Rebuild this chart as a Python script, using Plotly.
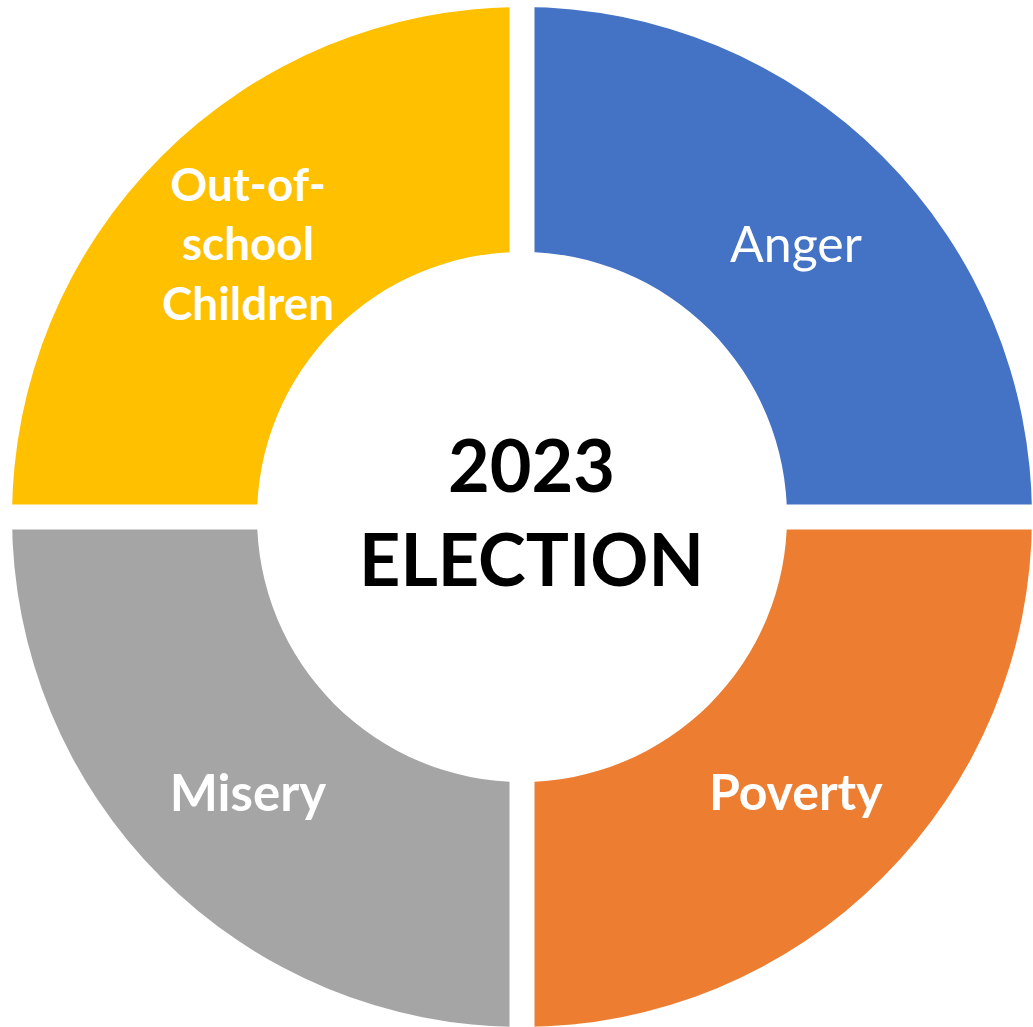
import plotly.graph_objects as go

# ---- data ----
labels = ["Anger", "Poverty", "Misery", "Out-of-school Children"]
display_text = ["Anger", "Poverty", "Misery", "Out-of-<br>school<br>Children"]
bold = [False, True, True, True]
values = [1, 1, 1, 1]
colors = ["#4472C4", "#ED7D31", "#A5A5A5", "#FFC000"]
label_sizes = [50, 50, 51, 54]
center_lines = ["2023", "ELECTION"]

W, H = 1033, 1027
cx, cy, R = 522, 517, 510   # pixel centre / radius of the ring
gap = 25                    # white separator width (px)

texts = [f"<b>{t}</b>" if b else t for t, b in zip(display_text, bold)]

fig = go.Figure(go.Pie(
    labels=labels,
    values=values,
    text=texts,
    textinfo="text",
    textposition="inside",
    insidetextorientation="horizontal",
    hole=265 / 510,
    sort=False,
    direction="clockwise",
    rotation=0,
    marker=dict(colors=colors, line=dict(width=0)),
    textfont=dict(family="Lato", size=label_sizes, color="white"),
    domain=dict(x=[(cx - R) / W, (cx + R) / W],
                y=[1 - (cy + R) / H, 1 - (cy - R) / H]),
    hoverinfo="label",
))

# white separator bands through the centre
fig.add_shape(type="rect", xref="paper", yref="paper",
              x0=(cx - gap / 2) / W, x1=(cx + gap / 2) / W, y0=-0.01, y1=1.01,
              fillcolor="white", line=dict(width=0), layer="above")
fig.add_shape(type="rect", xref="paper", yref="paper",
              x0=-0.01, x1=1.01, y0=1 - (cy + gap / 2) / H, y1=1 - (cy - gap / 2) / H,
              fillcolor="white", line=dict(width=0), layer="above")

fig.add_annotation(
    x=(cx + 9) / W, y=1 - (cy - 6) / H, xref="paper", yref="paper",
    text="<b>" + "<br>".join(center_lines) + "</b>",
    showarrow=False, xanchor="center", yanchor="middle",
    font=dict(family="Lato", size=72, color="black"),
)

fig.update_layout(
    width=W, height=H,
    margin=dict(l=0, r=0, t=0, b=0),
    paper_bgcolor="white",
    showlegend=False,
)

fig.write_html("out.html")
